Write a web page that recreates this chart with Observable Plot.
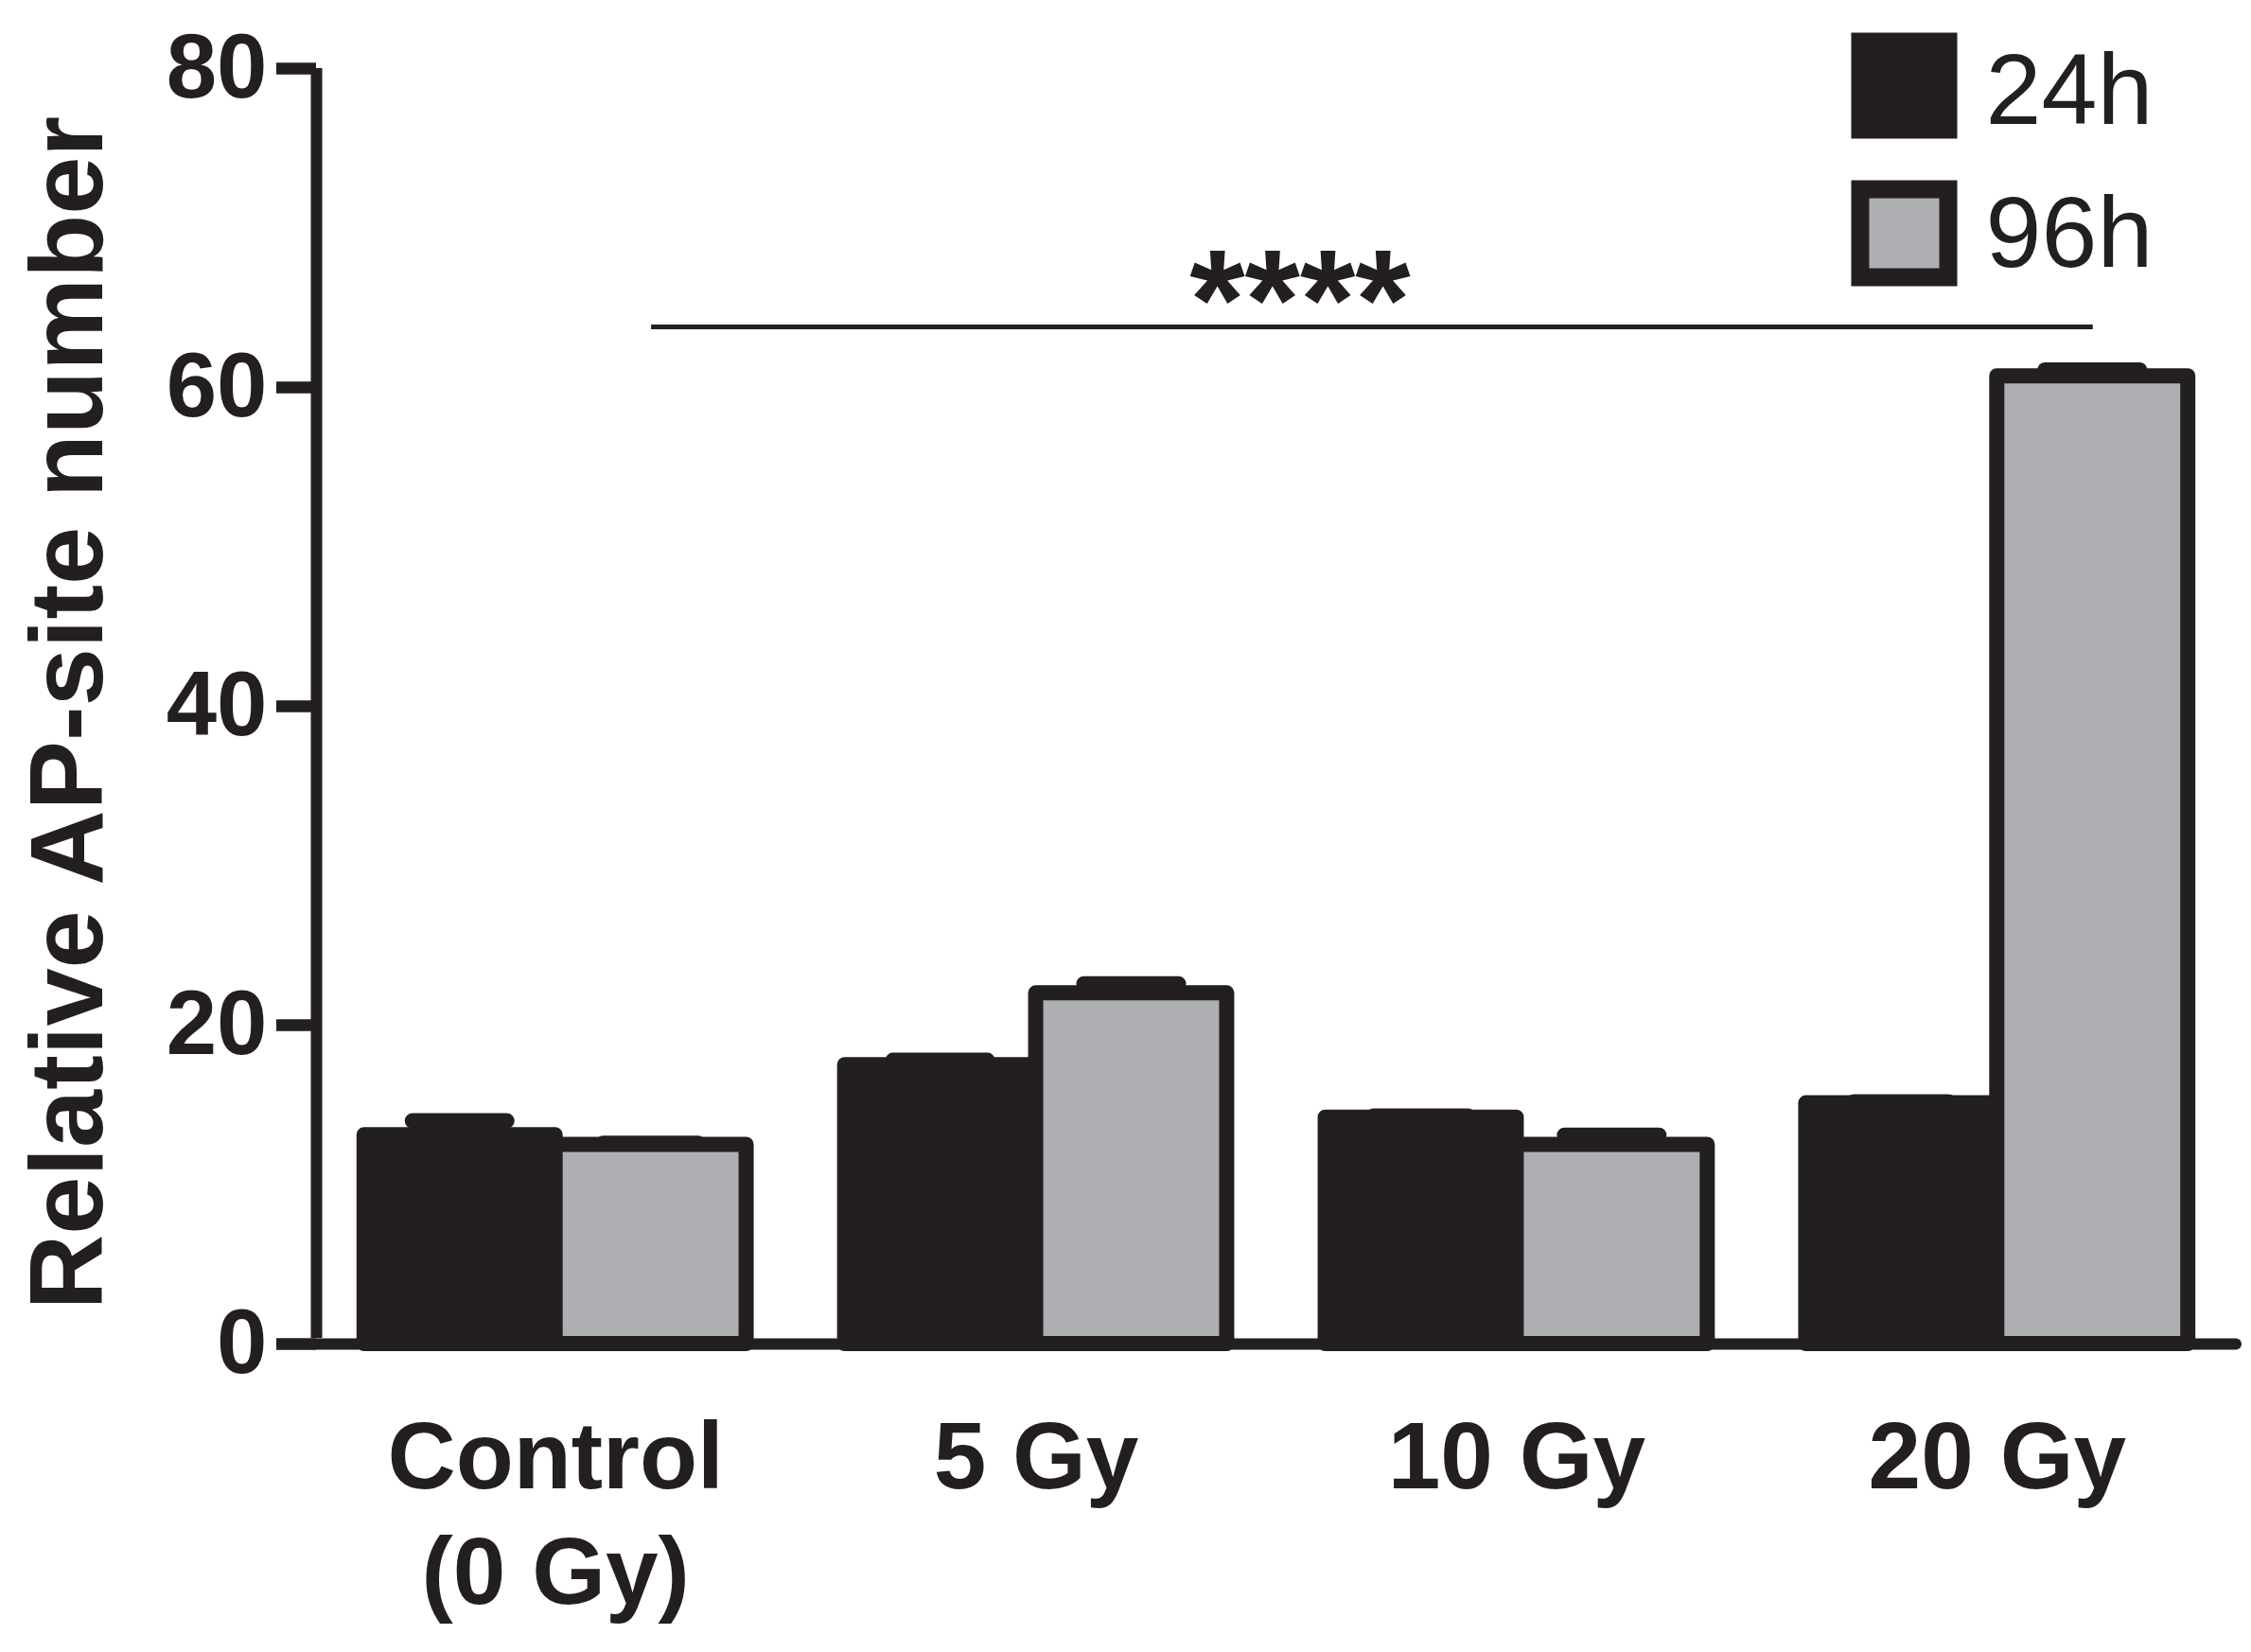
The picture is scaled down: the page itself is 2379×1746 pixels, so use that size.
<!DOCTYPE html>
<html>
<head>
<meta charset="utf-8">
<script src="https://cdn.jsdelivr.net/npm/d3@7"></script>
<script src="https://cdn.jsdelivr.net/npm/@observablehq/plot@0.6"></script>
<style>
  html, body { margin: 0; padding: 0; background: #ffffff; }
  #chart svg { display: block; }
</style>
</head>
<body>
<div id="chart"></div>
<script>
// ---- data ----
const groups = ["Control\n(0 Gy)", "5 Gy", "10 Gy", "20 Gy"];
const series = ["24h", "96h"];
const means24 = [13.1, 17.5, 14.2, 15.1];
const errs24  = [0.9, 0.3, 0.1, 0.1];
const means96 = [12.5, 22.0, 12.5, 60.7];
const errs96  = [0.1, 0.6, 0.6, 0.4];
const yTicks = [0, 20, 40, 60, 80];
const yLabel = "Relative AP-site number";
const sigValue = 63.8;
const sigLabel = "****";
const sigFrom = groups[0];
const sigTo = groups[3];

// ---- styling ----
const ink = "#231f20";
const colors = {"24h": ink, "96h": "#adafb2"};
const W = 2379, H = 1746;
const mL = 334, mR = 16, mT = 72, mB = 326;
const pIn = 0.205, pOut = 0.1;
const xBand = d3.scaleBand().domain(groups).range([mL, W - mR])
  .paddingInner(pIn).paddingOuter(pOut);
const bw = xBand.bandwidth();
const half = bw / 2;
const firstStart = xBand(groups[0]) - mL;      // frame left -> first band start
const axisShift = firstStart + bw / 2;          // frame left -> first band centre
const tickLen = 42;
const capW = 100;
const capInset = (half - capW) / 2;
const font = "'Liberation Sans', Arial, Helvetica, sans-serif";

const rows24 = groups.map((g, i) => ({group: g, series: series[0], value: means24[i], err: errs24[i]}));
const rows96 = groups.map((g, i) => ({group: g, series: series[1], value: means96[i], err: errs96[i]}));
const sigRows = [{from: sigFrom, to: sigTo, y: sigValue, label: sigLabel}];

const legendDy = [18, 174];
const legendTextDy = [25, 176];

const chart = Plot.plot({
  width: W,
  height: H,
  marginLeft: mL,
  marginRight: mR,
  marginTop: mT,
  marginBottom: mB,
  style: {fontFamily: font, background: "#ffffff", color: ink, overflow: "visible"},
  x: {type: "band", domain: groups, paddingInner: pIn, paddingOuter: pOut, round: false},
  y: {domain: [yTicks[0], yTicks[yTicks.length - 1]]},
  marks: [
    // bars
    Plot.barY(rows24, {x: "group", y: "value", fill: colors["24h"], stroke: ink, strokeWidth: 16,
      strokeLinejoin: "round", insetRight: half}),
    Plot.barY(rows96, {x: "group", y: "value", fill: colors["96h"], stroke: ink, strokeWidth: 16,
      strokeLinejoin: "round", insetLeft: half}),
    // error bars (upper)
    Plot.ruleX(rows24, {x: "group", y1: "value", y2: d => d.value + d.err, dx: -half / 2, stroke: ink, strokeWidth: 16}),
    Plot.ruleX(rows96, {x: "group", y1: "value", y2: d => d.value + d.err, dx: half / 2, stroke: ink, strokeWidth: 16}),
    Plot.tickY(rows24, {x: "group", y: d => d.value + d.err, stroke: ink, strokeWidth: 16,
      strokeLinecap: "round", insetLeft: capInset, insetRight: half + capInset}),
    Plot.tickY(rows96, {x: "group", y: d => d.value + d.err, stroke: ink, strokeWidth: 16,
      strokeLinecap: "round", insetLeft: half + capInset, insetRight: capInset}),
    // axes
    Plot.ruleY([0], {stroke: ink, strokeWidth: 12, strokeLinecap: "round"}),
    Plot.ruleX([groups[0]], {x: d => d, y1: yTicks[0], y2: yTicks[yTicks.length - 1], dx: -axisShift,
      stroke: ink, strokeWidth: 12, insetTop: -6}),
    Plot.axisY({ticks: yTicks, tickSize: tickLen, tickPadding: 10, strokeWidth: 12,
      fontSize: 96, fontWeight: "bold", label: null, color: ink}),
    Plot.tickY(yTicks, {y: d => d, x: () => groups[0], insetRight: bw - tickLen, dx: -firstStart - tickLen,
      stroke: ink, strokeWidth: 12}),
    Plot.axisX({tickSize: 0, tickPadding: 66, fontSize: 100, fontWeight: "bold",
      lineHeight: 1.22, label: null, color: ink}),
    Plot.text([yLabel], {text: d => d, frameAnchor: "left", textAnchor: "middle", lineAnchor: "middle",
      rotate: -90, dx: -262, dy: 7, fontSize: 110, fontWeight: "bold", fill: ink}),
    // significance bracket
    Plot.link(sigRows, {x1: "from", x2: "to", y1: "y", y2: "y", dx: half / 2, stroke: ink, strokeWidth: 5}),
    Plot.text(sigRows, {x: () => groups[2], y: "y", text: "label", dx: -229, dy: -24,
      fontSize: 150, fontWeight: "bold", fill: ink}),
    // legend
    ...series.map((s, i) => Plot.dot([s], {frameAnchor: "top-right", dx: -351, dy: legendDy[i],
      symbol: "square", r: 52.5, fill: colors[s], stroke: ink, strokeWidth: 19})),
    ...series.map((s, i) => Plot.text([s], {frameAnchor: "top-right", text: d => d, dx: -265, dy: legendTextDy[i],
      textAnchor: "start", lineAnchor: "middle", fontSize: 106, fill: ink}))
  ]
});
document.getElementById("chart").appendChild(chart);
</script>
</body>
</html>
